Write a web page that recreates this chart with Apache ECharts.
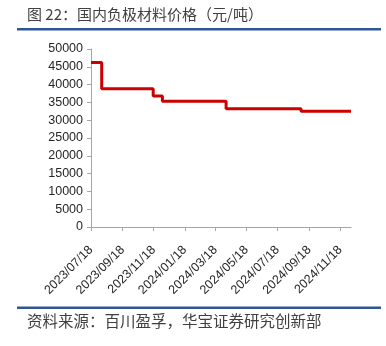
<!DOCTYPE html>
<html>
<head>
<meta charset="utf-8">
<script src="https://cdn.jsdelivr.net/npm/echarts@6/dist/echarts.min.js"></script>
<style>
  html, body { margin: 0; padding: 0; background: #fff; }
  #chart { width: 386px; height: 346px; }
</style>
</head>
<body>
<div id="chart"></div>
<script>
// Price change dates and the price (元/吨) in effect from each date
const changeDates = ['2023/07/18', '2023/08/08', '2023/11/17', '2023/12/05', '2024/04/08', '2024/09/02', '2024/12/09'];
const prices      = [46200,        38800,        36800,        35300,        33200,        32500,        32500];
const tickLabels  = ['2023/07/18', '2023/09/18', '2023/11/18', '2024/01/18', '2024/03/18',
                     '2024/05/18', '2024/07/18', '2024/09/18', '2024/11/18'];
const yMin = 0, yMax = 50000, yStep = 5000;

// Daily category axis spanning the whole period
function fmt(d) {
  const m = String(d.getMonth() + 1).padStart(2, '0');
  const day = String(d.getDate()).padStart(2, '0');
  return d.getFullYear() + '/' + m + '/' + day;
}
const days = [];
{
  const start = new Date(2023, 6, 18);
  const end = new Date(2024, 11, 9);
  for (let d = new Date(start); d <= end; d.setDate(d.getDate() + 1)) days.push(fmt(d));
}
const showTick = (i, v) => tickLabels.indexOf(v) >= 0;

const chart = echarts.init(document.getElementById('chart'), null, { renderer: 'canvas' });
chart.setOption({
  animation: false,
  backgroundColor: '#fff',
  grid: { left: 91, right: 35, top: 49, bottom: 119, containLabel: false },
  xAxis: {
    type: 'category',
    data: days,
    boundaryGap: false,
    axisLine: { lineStyle: { color: '#a6a6a6', width: 1 } },
    axisTick: { interval: showTick, length: 4, lineStyle: { color: '#a6a6a6' } },
    axisLabel: {
      interval: showTick, rotate: 45, margin: 21,
      fontFamily: 'Liberation Sans, Arial, sans-serif', fontSize: 12.5, color: '#262626'
    },
    splitLine: { show: false }
  },
  yAxis: {
    type: 'value',
    min: yMin, max: yMax, interval: yStep,
    axisLine: { show: true, lineStyle: { color: '#a6a6a6', width: 1 } },
    axisTick: { show: true, length: 4, lineStyle: { color: '#a6a6a6' } },
    axisLabel: {
      margin: 8, formatter: v => String(v),
      fontFamily: 'Liberation Sans, Arial, sans-serif', fontSize: 12.5, color: '#262626'
    },
    splitLine: { show: false }
  },
  series: [{
    type: 'line',
    step: 'end',
    data: changeDates.map((d, i) => [d, prices[i]]),
    showSymbol: false,
    lineStyle: { color: '#cc0000', width: 3 },
    itemStyle: { color: '#cc0000' }
  }],
  graphic: [
    { type: 'text', left: 27, top: 7,
      style: { text: '图 22：国内负极材料价格（元/吨）', font: '15px "Noto Sans CJK SC"', fill: '#404040' } },
    { type: 'rect', shape: { x: 17, y: 28, width: 364, height: 2.5 }, style: { fill: '#2e5597' } },
    { type: 'rect', shape: { x: 17, y: 306.5, width: 364, height: 2.5 }, style: { fill: '#2e5597' } },
    { type: 'text', left: 27, top: 313,
      style: { text: '资料来源：百川盈孚，华宝证券研究创新部', font: '15.5px "Noto Sans CJK SC"', fill: '#404040' } }
  ]
});
</script>
</body>
</html>
